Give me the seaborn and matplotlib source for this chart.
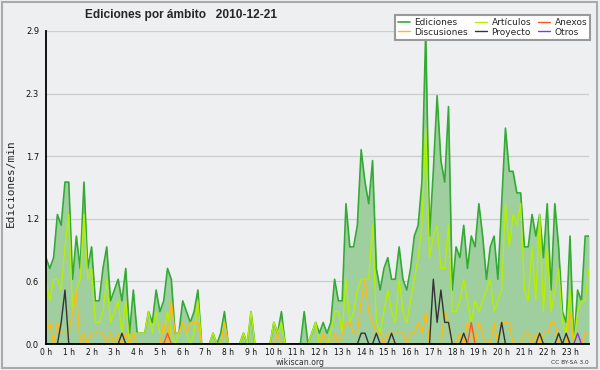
import numpy as np
import pandas as pd
import matplotlib
matplotlib.use('Agg')
import matplotlib.pyplot as plt
import seaborn as sns
from matplotlib.ticker import MultipleLocator, FixedLocator, FormatStrFormatter
from matplotlib.patches import Rectangle

# Ediciones/min por bloques de 10 min (cada fila = 1 hora)
ediciones = [
    0.8, 0.7, 0.8, 1.2, 1.1, 1.5,
    1.5, 0.6, 1.0, 0.7, 1.5, 0.7,
    0.9, 0.4, 0.4, 0.7, 0.9, 0.4,
    0.5, 0.6, 0.4, 0.7, 0.1, 0.5,
    0.1, 0.1, 0.1, 0.3, 0.2, 0.5,
    0.3, 0.4, 0.7, 0.6, 0.1, 0.1,
    0.4, 0.3, 0.2, 0.3, 0.5, 0.0,
    0.0, 0.0, 0.1, 0.0, 0.1, 0.3,
    0.0, 0.0, 0.0, 0.0, 0.1, 0.0,
    0.3, 0.0, 0.0, 0.0, 0.0, 0.0,
    0.2, 0.1, 0.3, 0.0, 0.0, 0.0,
    0.0, 0.0, 0.3, 0.0, 0.1, 0.2,
    0.1, 0.2, 0.1, 0.2, 0.6, 0.4,
    0.4, 1.3, 0.9, 0.9, 1.1, 1.8,
    1.5, 1.3, 1.7, 0.7, 0.5, 0.7,
    0.8, 0.6, 0.6, 0.9, 0.6, 0.5,
    0.7, 1.0, 1.1, 1.5, 2.9, 1.0,
    1.6, 2.3, 1.7, 1.5, 2.2, 0.5,
    0.9, 0.8, 1.1, 0.7, 1.0, 0.9,
    1.3, 1.0, 0.6, 0.9, 1.0, 0.6,
    1.3, 2.0, 1.6, 1.6, 1.4, 1.4,
    0.9, 0.9, 1.2, 1.0, 1.2, 0.8,
    1.3, 0.5, 1.3, 0.9, 0.3, 0.2,
    1.0, 0.0, 0.5, 0.4, 1.0, 1.0,
]
articulos = [
    0.6, 0.4, 0.6, 0.6, 0.5, 0.9,
    1.2, 0.3, 0.5, 0.6, 1.2, 0.6,
    0.7, 0.2, 0.2, 0.3, 0.6, 0.2,
    0.3, 0.4, 0.1, 0.4, 0.0, 0.1,
    0.1, 0.1, 0.1, 0.3, 0.1, 0.3,
    0.1, 0.1, 0.3, 0.1, 0.0, 0.1,
    0.2, 0.1, 0.0, 0.1, 0.4, 0.0,
    0.0, 0.0, 0.1, 0.0, 0.0, 0.2,
    0.0, 0.0, 0.0, 0.0, 0.1, 0.0,
    0.3, 0.0, 0.0, 0.0, 0.0, 0.0,
    0.2, 0.1, 0.2, 0.0, 0.0, 0.0,
    0.0, 0.0, 0.0, 0.0, 0.1, 0.2,
    0.0, 0.1, 0.0, 0.1, 0.3, 0.3,
    0.1, 0.6, 0.2, 0.3, 0.5, 0.6,
    0.6, 0.6, 1.1, 0.2, 0.1, 0.3,
    0.5, 0.3, 0.2, 0.6, 0.3, 0.2,
    0.4, 0.6, 0.8, 1.1, 2.0, 0.8,
    1.0, 1.1, 0.7, 0.7, 1.1, 0.3,
    0.3, 0.4, 0.6, 0.4, 0.2, 0.4,
    0.3, 0.4, 0.5, 0.6, 0.3, 0.4,
    0.5, 1.3, 0.9, 1.2, 1.1, 1.3,
    0.5, 0.4, 0.9, 0.4, 1.2, 0.3,
    0.9, 0.3, 0.5, 0.7, 0.2, 0.1,
    0.5, 0.0, 0.3, 0.4, 0.4, 0.7,
]
discusiones = [
    0.1, 0.2, 0.0, 0.2, 0.1, 0.1,
    0.1, 0.3, 0.5, 0.0, 0.1, 0.0,
    0.1, 0.1, 0.1, 0.1, 0.0, 0.1,
    0.0, 0.1, 0.0, 0.1, 0.0, 0.1,
    0.0, 0.0, 0.0, 0.0, 0.0, 0.0,
    0.0, 0.2, 0.0, 0.4, 0.1, 0.1,
    0.2, 0.1, 0.2, 0.2, 0.2, 0.0,
    0.0, 0.0, 0.0, 0.0, 0.0, 0.2,
    0.0, 0.0, 0.0, 0.0, 0.0, 0.0,
    0.0, 0.0, 0.0, 0.0, 0.0, 0.0,
    0.0, 0.1, 0.0, 0.0, 0.0, 0.0,
    0.0, 0.0, 0.0, 0.0, 0.0, 0.0,
    0.0, 0.1, 0.0, 0.0, 0.1, 0.0,
    0.1, 0.2, 0.2, 0.1, 0.1, 0.4,
    0.6, 0.3, 0.2, 0.1, 0.1, 0.0,
    0.1, 0.1, 0.1, 0.1, 0.1, 0.0,
    0.1, 0.1, 0.2, 0.1, 0.3, 0.0,
    0.0, 0.0, 0.0, 0.3, 0.2, 0.0,
    0.0, 0.1, 0.0, 0.2, 0.1, 0.0,
    0.2, 0.1, 0.0, 0.0, 0.2, 0.0,
    0.2, 0.2, 0.2, 0.0, 0.0, 0.0,
    0.1, 0.1, 0.0, 0.1, 0.0, 0.1,
    0.1, 0.2, 0.2, 0.0, 0.0, 0.0,
    0.3, 0.0, 0.1, 0.0, 0.1, 0.1,
]
proyecto = [
    0.0, 0.0, 0.0, 0.0, 0.2, 0.5,
    0.0, 0.0, 0.0, 0.0, 0.0, 0.0,
    0.0, 0.0, 0.0, 0.0, 0.0, 0.0,
    0.0, 0.0, 0.1, 0.0, 0.0, 0.0,
    0.0, 0.0, 0.0, 0.0, 0.0, 0.0,
    0.0, 0.0, 0.0, 0.0, 0.0, 0.0,
    0.0, 0.0, 0.0, 0.0, 0.0, 0.0,
    0.0, 0.0, 0.0, 0.0, 0.0, 0.0,
    0.0, 0.0, 0.0, 0.0, 0.0, 0.0,
    0.0, 0.0, 0.0, 0.0, 0.0, 0.0,
    0.0, 0.0, 0.0, 0.0, 0.0, 0.0,
    0.0, 0.0, 0.0, 0.0, 0.0, 0.0,
    0.0, 0.0, 0.0, 0.0, 0.0, 0.0,
    0.0, 0.0, 0.0, 0.0, 0.0, 0.1,
    0.1, 0.0, 0.0, 0.1, 0.0, 0.0,
    0.0, 0.1, 0.0, 0.0, 0.0, 0.0,
    0.0, 0.0, 0.0, 0.0, 0.0, 0.0,
    0.6, 0.2, 0.5, 0.2, 0.2, 0.0,
    0.0, 0.0, 0.1, 0.0, 0.0, 0.0,
    0.0, 0.0, 0.0, 0.0, 0.0, 0.0,
    0.2, 0.0, 0.0, 0.0, 0.0, 0.0,
    0.0, 0.0, 0.0, 0.0, 0.1, 0.0,
    0.0, 0.0, 0.0, 0.1, 0.0, 0.1,
    0.0, 0.0, 0.0, 0.0, 0.0, 0.0,
]
anexos = [
    0.0, 0.0, 0.0, 0.0, 0.0, 0.0,
    0.0, 0.0, 0.0, 0.0, 0.0, 0.0,
    0.0, 0.0, 0.0, 0.0, 0.0, 0.0,
    0.0, 0.0, 0.0, 0.0, 0.0, 0.0,
    0.0, 0.0, 0.0, 0.0, 0.0, 0.0,
    0.0, 0.0, 0.1, 0.0, 0.0, 0.0,
    0.0, 0.0, 0.0, 0.0, 0.0, 0.0,
    0.0, 0.0, 0.0, 0.0, 0.0, 0.0,
    0.0, 0.0, 0.0, 0.0, 0.0, 0.0,
    0.0, 0.0, 0.0, 0.0, 0.0, 0.0,
    0.0, 0.0, 0.0, 0.0, 0.0, 0.0,
    0.0, 0.0, 0.0, 0.0, 0.0, 0.0,
    0.0, 0.0, 0.0, 0.0, 0.0, 0.0,
    0.0, 0.0, 0.0, 0.0, 0.0, 0.0,
    0.0, 0.0, 0.0, 0.0, 0.0, 0.0,
    0.0, 0.0, 0.0, 0.0, 0.0, 0.0,
    0.0, 0.0, 0.0, 0.0, 0.0, 0.0,
    0.0, 0.0, 0.0, 0.0, 0.0, 0.0,
    0.0, 0.0, 0.0, 0.0, 0.2, 0.0,
    0.0, 0.0, 0.0, 0.0, 0.0, 0.0,
    0.0, 0.0, 0.0, 0.0, 0.0, 0.0,
    0.0, 0.0, 0.0, 0.0, 0.0, 0.0,
    0.0, 0.0, 0.0, 0.0, 0.0, 0.0,
    0.0, 0.0, 0.0, 0.0, 0.0, 0.0,
]
otros = [
    0.0, 0.0, 0.0, 0.0, 0.0, 0.0,
    0.0, 0.0, 0.0, 0.0, 0.0, 0.0,
    0.0, 0.0, 0.0, 0.0, 0.0, 0.0,
    0.0, 0.0, 0.0, 0.0, 0.0, 0.0,
    0.0, 0.0, 0.0, 0.0, 0.0, 0.0,
    0.0, 0.0, 0.0, 0.0, 0.0, 0.0,
    0.0, 0.0, 0.0, 0.0, 0.0, 0.0,
    0.0, 0.0, 0.0, 0.0, 0.0, 0.0,
    0.0, 0.0, 0.0, 0.0, 0.0, 0.0,
    0.0, 0.0, 0.0, 0.0, 0.0, 0.0,
    0.0, 0.0, 0.0, 0.0, 0.0, 0.0,
    0.0, 0.0, 0.0, 0.0, 0.0, 0.0,
    0.0, 0.0, 0.0, 0.0, 0.0, 0.0,
    0.0, 0.0, 0.0, 0.0, 0.0, 0.0,
    0.0, 0.0, 0.0, 0.0, 0.0, 0.0,
    0.0, 0.0, 0.0, 0.0, 0.0, 0.0,
    0.0, 0.0, 0.0, 0.0, 0.0, 0.0,
    0.0, 0.0, 0.0, 0.0, 0.0, 0.0,
    0.0, 0.0, 0.0, 0.0, 0.0, 0.0,
    0.0, 0.0, 0.0, 0.0, 0.0, 0.0,
    0.0, 0.0, 0.0, 0.0, 0.0, 0.0,
    0.0, 0.0, 0.0, 0.0, 0.0, 0.0,
    0.0, 0.0, 0.0, 0.0, 0.0, 0.0,
    0.0, 0.0, 0.1, 0.0, 0.0, 0.0,
]
horas = [f'{h} h' for h in range(24)]
titulo = 'Ediciones por ámbito   2010-12-21'

df = pd.DataFrame({
    'Ediciones': ediciones,
    'Artículos': articulos,
    'Discusiones': discusiones,
    'Proyecto': proyecto,
    'Anexos': anexos,
    'Otros': otros,
})
df['hora'] = np.arange(len(df)) / 6  # bloques de 10 min

colores = {
    'Ediciones': '#33aa33',
    'Artículos': '#b4f000',
    'Discusiones': '#ffbb11',
    'Proyecto': '#333333',
    'Anexos': '#ff5522',
    'Otros': '#8833ee',
}

sns.set_style('white')
plt.rcParams['font.family'] = ['DejaVu Sans']
fondo = '#eeeff1'

fig = plt.figure(figsize=(6, 3.7), dpi=100, facecolor=fondo)
ax = fig.add_axes([46 / 600, 26 / 370, 543 / 600, 313 / 370], facecolor=fondo)

# area de ediciones totales
ax.fill_between(df['hora'], df['Ediciones'], color='#9fcf9f', lw=0, zorder=1)
for i, col in enumerate(['Ediciones', 'Artículos', 'Discusiones', 'Proyecto', 'Anexos', 'Otros']):
    sns.lineplot(data=df, x='hora', y=col, color=colores[col], label=col,
                 lw=1.2 if col == 'Ediciones' else 1.0, ax=ax, zorder=2 + i)

ax.set_xlim(0, df['hora'].iloc[-1])
ax.set_ylim(0, 2.9)

ax.set_xticks(range(24))
ax.set_xticklabels(horas)
ax.xaxis.set_minor_locator(MultipleLocator(1 / 6))
ax.yaxis.set_major_locator(FixedLocator(np.linspace(0, 2.9, 6)))
ax.yaxis.set_major_formatter(FormatStrFormatter('%.1f'))
ax.yaxis.set_minor_locator(MultipleLocator(2.9 / 20))
ax.tick_params(axis='x', which='both', direction='out', length=2.5, width=1,
               labelsize=5.5, pad=0.5, colors='#111111')
ax.tick_params(axis='y', which='major', direction='out', length=4, width=1,
               labelsize=6, pad=1, colors='#111111')
ax.tick_params(axis='y', which='minor', direction='out', length=2.5, width=1)
ax.grid(axis='y', which='major', color='#cccccc', lw=0.9)
ax.set_axisbelow(True)
for s in ['top', 'right']:
    ax.spines[s].set_visible(False)
for s in ['left', 'bottom']:
    ax.spines[s].set_color('black')
    ax.spines[s].set_linewidth(1.3)
    ax.spines[s].set_zorder(20)

ax.set_xlabel('')
ax.set_ylabel('')
fig.text(11 / 600, 1 - 183 / 370, 'Ediciones/min', rotation=90, ha='center', va='center',
         fontsize=8, family='DejaVu Sans Mono')
fig.text(85 / 600, 1 - 15 / 370, titulo, fontsize=8.6, fontweight='bold',
         family='Liberation Sans', va='center', ha='left')
fig.text(300 / 600, 1 - 362.5 / 370, 'wikiscan.org', fontsize=5.6, color='#333333',
         ha='center', va='center')
fig.text(589 / 600, 1 - 362.5 / 370, 'CC BY-SA 3.0', fontsize=4.2, color='#333333',
         ha='right', va='center')

h, l = ax.get_legend_handles_labels()
orden = ['Ediciones', 'Discusiones', 'Artículos', 'Proyecto', 'Anexos', 'Otros']
hs = [h[l.index(n)] for n in orden]
leg = ax.legend(hs, orden, ncol=3, loc='upper right',
                bbox_to_anchor=(595 / 600, 360 / 370), bbox_transform=fig.transFigure,
                fontsize=6.5, handlelength=1.3, handletextpad=0.5, columnspacing=0.8,
                labelspacing=0.1, borderpad=0.35, frameon=True, fancybox=False,
                edgecolor='#999999', facecolor='white', framealpha=1)
leg.get_frame().set_linewidth(1.5)
leg.set_zorder(30)

fig.patches.append(Rectangle((0.003, 0.005), 0.992, 0.99, transform=fig.transFigure,
                             fill=False, edgecolor='#aaaaaa', lw=1.5))

fig.savefig('out.png', dpi=100, facecolor=fondo)
